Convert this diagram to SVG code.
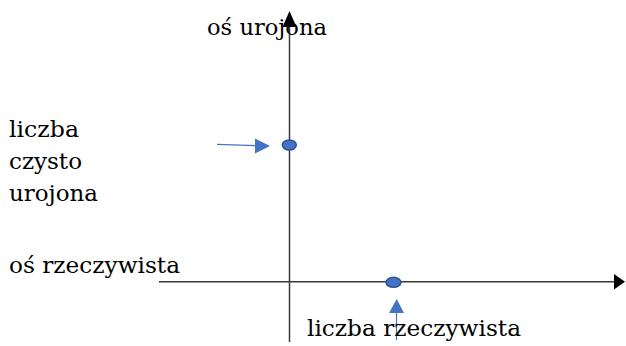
<svg xmlns="http://www.w3.org/2000/svg" width="626" height="346" viewBox="0 0 626 346">
<style>
text{font-family:'DejaVu Serif',serif;font-size:23px;fill:#000}
.axis{stroke:#3a3a3a;stroke-width:1.5;fill:none}
.ptr{stroke:#4472C4;stroke-width:1.2;fill:none}
.dot{fill:#4472C4;stroke:#2F528F;stroke-width:1.5}
</style>
<g id="connectors">
<path class="axis" d="M289.5,342 L289.5,27"/>
<path d="M282.5,27 L289.5,11 L296.5,27 Z" fill="#000"/>
<path class="axis" d="M159,281.7 L614,281.7"/>
<path d="M614,274 L625,281.7 L614,289.5 Z" fill="#000"/>
<path class="ptr" d="M217,144.3 L256,145.7"/>
<path d="M255,138.5 L270,146 L255,153.5 Z" fill="#4472C4"/>
<path class="ptr" d="M396.5,340 L396.5,312"/>
<path d="M389,313 L396.7,299 L404,313 Z" fill="#4472C4"/>
</g>
<g id="imag-point"><ellipse class="dot" cx="289.3" cy="145" rx="7" ry="5"/></g>
<g id="real-point"><ellipse class="dot" cx="393.5" cy="282.3" rx="7.5" ry="5"/></g>
<g id="label-imag-axis"><text x="207" y="35" textLength="120" lengthAdjust="spacingAndGlyphs">oś urojona</text></g>
<g id="label-pure-imag">
<text x="9" y="137" textLength="70" lengthAdjust="spacingAndGlyphs">liczba</text>
<text x="9" y="169" textLength="73" lengthAdjust="spacingAndGlyphs">czysto</text>
<text x="9" y="201" textLength="89" lengthAdjust="spacingAndGlyphs">urojona</text>
</g>
<g id="label-real-axis"><text x="9" y="272.7" textLength="171" lengthAdjust="spacingAndGlyphs">oś rzeczywista</text></g>
<g id="label-real"><text x="307" y="336" textLength="214" lengthAdjust="spacingAndGlyphs">liczba rzeczywista</text></g>
</svg>
